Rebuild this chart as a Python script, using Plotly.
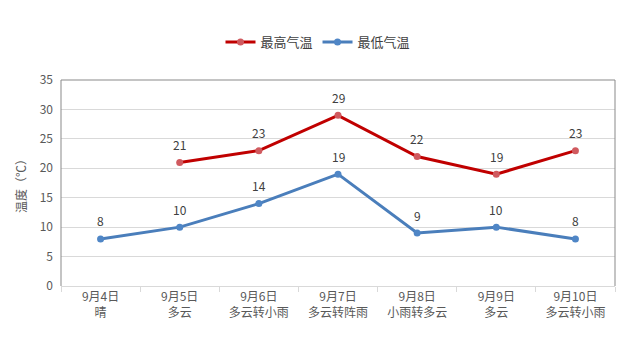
import plotly.graph_objects as go

dates = ["9月4日", "9月5日", "9月6日", "9月7日", "9月8日", "9月9日", "9月10日"]
weather = ["晴", "多云", "多云转小雨", "多云转阵雨", "小雨转多云", "多云", "多云转小雨"]
max_temp = [None, 21, 23, 29, 22, 19, 23]
min_temp = [8, 10, 14, 19, 9, 10, 8]
y_ticks = [0, 5, 10, 15, 20, 25, 30, 35]

cats = [f"{d}<br>{w}" for d, w in zip(dates, weather)]
FONT = "Noto Sans CJK SC"

fig = go.Figure()
fig.add_trace(go.Scatter(
    x=cats, y=max_temp, name="最高气温", mode="lines+markers",
    line=dict(color="#C00000", width=3),
    marker=dict(color="#D05A5F", size=7),
))
fig.add_trace(go.Scatter(
    x=cats, y=min_temp, name="最低气温", mode="lines+markers",
    line=dict(color="#4A7EBB", width=3),
    marker=dict(color="#4F86C6", size=7),
))

annotations = []
for c, v in zip(cats, max_temp):
    if v is not None:
        annotations.append(dict(x=c, y=v, text=str(v), showarrow=False, yshift=18,
                                font=dict(family=FONT, size=12, color="#404040")))
for c, v in zip(cats, min_temp):
    annotations.append(dict(x=c, y=v, text=str(v), showarrow=False, yshift=18,
                            font=dict(family=FONT, size=12, color="#404040")))

fig.update_layout(
    width=636, height=340,
    margin=dict(l=61, r=21, t=80, b=54),
    paper_bgcolor="white", plot_bgcolor="white",
    font=dict(family=FONT, size=12, color="#595959"),
    showlegend=True,
    legend=dict(orientation="h", xref="container", yref="container",
                x=0.5, xanchor="center", y=0.876, yanchor="middle",
                font=dict(family=FONT, size=13, color="#404040"),
                itemwidth=30, tracegroupgap=0),
    annotations=annotations,
    xaxis=dict(
        type="category", range=[-0.5, 6.5], showgrid=False,
        showline=True, linecolor="#D9D9D9", linewidth=1,
        ticks="outside", tickson="boundaries", ticklen=5, tickcolor="#D9D9D9",
        tickfont=dict(family=FONT, size=12, color="#595959"),
    ),
    yaxis=dict(
        range=[0, 35], tickvals=y_ticks, showgrid=True, gridcolor="#D9D9D9",
        gridwidth=1, zeroline=False, showline=False,
        ticks="", ticklabelstandoff=7,
        tickfont=dict(family=FONT, size=12, color="#595959"),
        title=dict(text="温度（℃）", font=dict(family=FONT, size=12, color="#595959"),
                   standoff=10),
    ),
    shapes=[dict(type="path", xref="paper", yref="paper",
                 path="M 0 0 L 0 1 L 1 1 L 1 0",
                 line=dict(color="#898989", width=1), layer="above")],
)

fig.write_html("out.html")
